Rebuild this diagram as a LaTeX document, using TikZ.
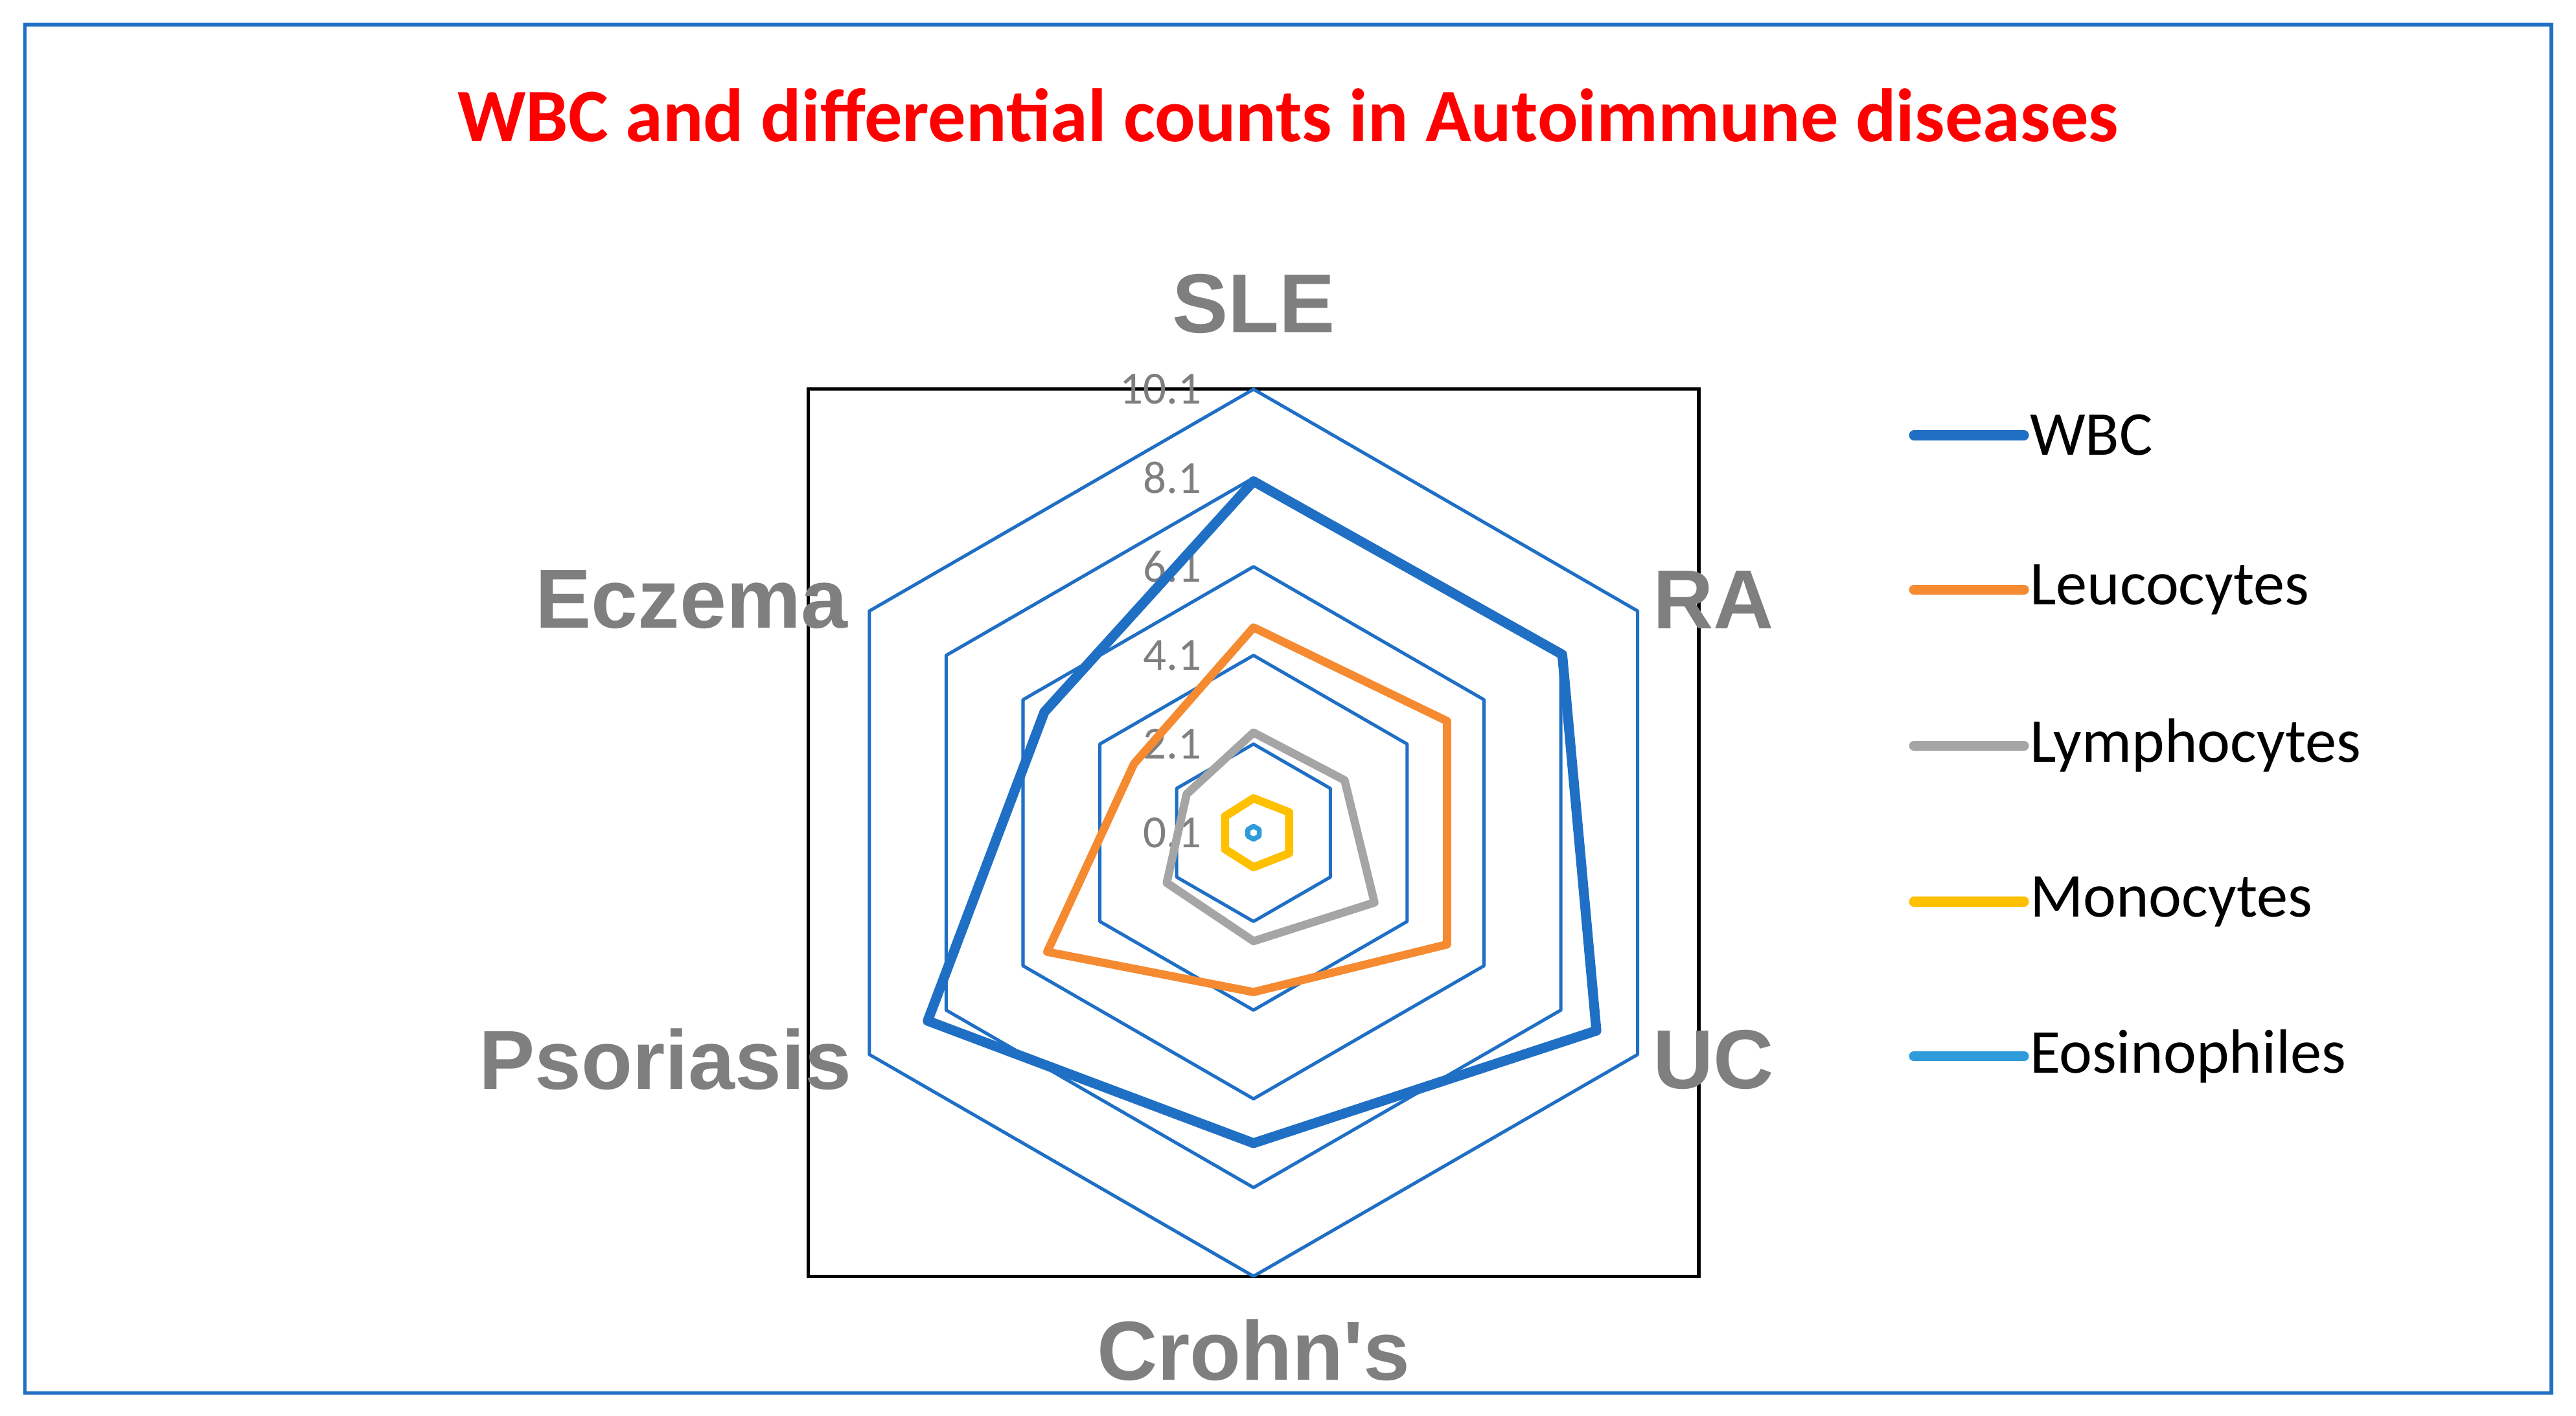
\documentclass[tikz,border=0pt]{standalone}
\usepackage{fontspec}
\setmainfont{Carlito}
\newfontfamily\arialf{Liberation Sans}
\definecolor{gridb}{HTML}{1F6FC5}
\definecolor{wbc}{HTML}{1F6FC5}
\definecolor{leu}{HTML}{F58A30}
\definecolor{lym}{HTML}{A5A5A5}
\definecolor{mono}{HTML}{FFC000}
\definecolor{eos}{HTML}{2E9BDA}
\definecolor{axg}{HTML}{7F7F7F}
\newcommand{\radarpoly}[7]{\draw[#1,line join=round] (90:#2pt)--(30:#3pt)--(-30:#4pt)--(-90:#5pt)--(-150:#6pt)--(150:#7pt)--cycle;}
\begin{document}
\begin{tikzpicture}[x=1pt,y=1pt,
  axlab/.style={font=\arialf\bfseries\fontsize{51}{51}\selectfont,text=axg},
  ticklab/.style={font=\fontsize{28}{28}\selectfont,text=axg,anchor=east},
  leglab/.style={font=\fontsize{38}{38}\selectfont,anchor=west},
  serie/.style={line width=5pt}]
\useasboundingbox (0,0) rectangle (1568,862);
\draw[gridb,line width=2pt] (15,14) rectangle (1553,847);
\node[text=red,font=\bfseries\fontsize{46}{46}\selectfont] (title) at (784,792) {WBC and differential counts in Autoimmune diseases};
\draw[black,line width=2pt] (492,85) rectangle (1034,625);
\begin{scope}[shift={(763,355)}]
\foreach \r in {54,108,162,216,270}{\radarpoly{gridb,line width=2pt}{\r}{\r}{\r}{\r}{\r}{\r}}
\foreach \v/\r in {0.1/0,2.1/54,4.1/108,6.1/162,8.1/216,10.1/270}{\node[ticklab] at (-28,\r) {\v};}
\radarpoly{serie,wbc,line width=6pt}{214}{217}{241}{189}{229}{147}
\radarpoly{serie,leu}{125}{136}{136}{97}{145}{84}
\radarpoly{serie,lym}{61}{64}{85}{66}{61}{47}
\radarpoly{serie,mono}{21}{25}{25}{21}{20}{20}
\radarpoly{serie,eos,line width=3pt}{4}{4}{4}{4}{4}{4}
\end{scope}
\node[axlab] (sle) at (763,677) {SLE};
\node[axlab] (ra) at (1043,497) {RA};
\node[axlab] (uc) at (1043,217) {UC};
\node[axlab] (cr) at (763,40) {Crohn's};
\node[axlab] (ps) at (405,217) {Psoriasis};
\node[axlab] (ec) at (421,497) {Eczema};
\foreach \n/\c/\t/\y in {a/wbc/WBC/597,b/leu/Leucocytes/503,c/lym/Lymphocytes/408,d/mono/Monocytes/313,e/eos/Eosinophiles/219}{
  \coordinate (l\n) at (1165,\y);
  \node[leglab] (t\n) at (1232,\y) {\t};
  \draw[\c,line width=6pt,line cap=round] (l\n) -- (t\n.west);
}
\end{tikzpicture}
\end{document}
